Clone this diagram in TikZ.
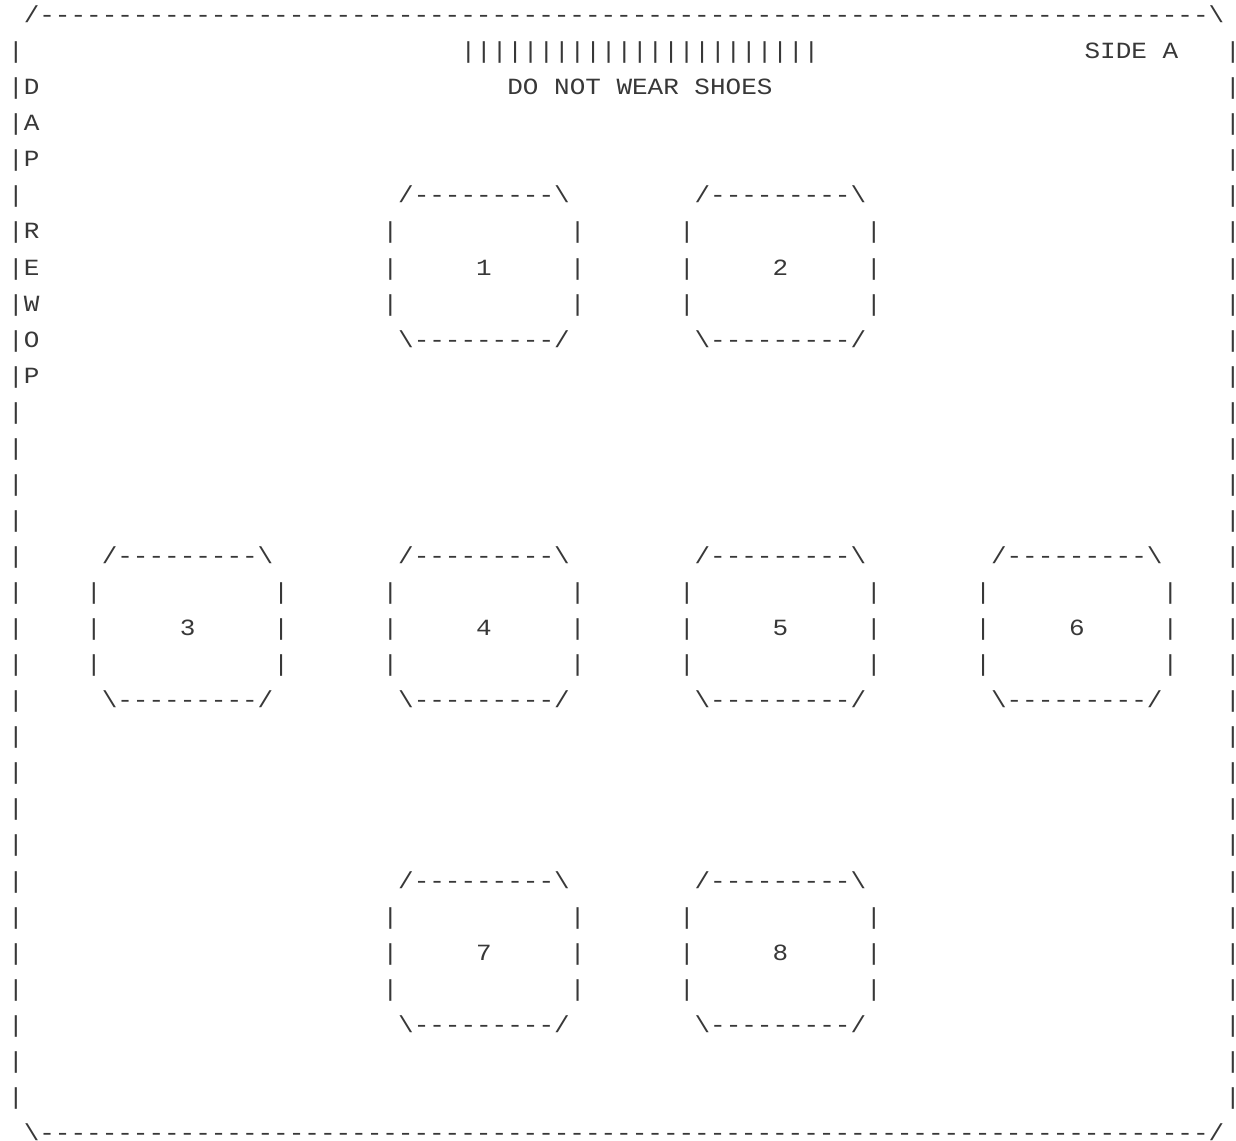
\documentclass[tikz,border=0pt]{standalone}
\usepackage{fontspec}
\newfontfamily\mono{Liberation Mono}[FakeStretch=1.12]
% place text on the character grid: name, column, row, text
\newcommand\asc[4]{\node[glyph] (#1) at ({8.2+15.6*(#2)},{-(22.6+36.06*(#3))}) {#4};}
% a pad box: name, centre column, top row, number
\newcommand\ascbox[4]{%
  \asc{#1t}{#2-5}{#3}{/---------\textbackslash}
  \foreach \k in {1,2,3}{\asc{#1l\k}{#2-6}{#3+\k}{|}\asc{#1r\k}{#2+6}{#3+\k}{|}}
  \asc{#1n}{#2}{#3+2}{#4}
  \asc{#1b}{#2-5}{#3+4}{\textbackslash---------/}}
\newcommand\borderdashes{---------------------------------------------------------------------------}
\begin{document}
\begin{tikzpicture}[x=1pt,y=1pt,
  glyph/.style={anchor=base west,inner sep=0pt,outer sep=0pt,
    font=\mono\fontsize{23.2pt}{36pt}\selectfont,text=black!78}]
\fill[white] (0,0) rectangle (1236,-1140);
\useasboundingbox (0,0) rectangle (1236,-1140);
% outer frame
\asc{top}{1}{0}{/\borderdashes\textbackslash}
\asc{bot}{1}{31}{\textbackslash\borderdashes/}
\foreach \r in {1,...,30}{\asc{L\r}{0}{\r}{|}\asc{R\r}{78}{\r}{|}}
% header
\asc{bar}{29}{1}{|||||||||||||||||||||||}
\asc{side}{69}{1}{SIDE A}
\asc{warn}{32}{2}{DO NOT WEAR SHOES}
% vertical side label
\asc{vD}{1}{2}{D}
\asc{vA}{1}{3}{A}
\asc{vP}{1}{4}{P}
\asc{vR}{1}{6}{R}
\asc{vE}{1}{7}{E}
\asc{vW}{1}{8}{W}
\asc{vO}{1}{9}{O}
\asc{vP2}{1}{10}{P}
% pads
\ascbox{b1}{30}{5}{1}
\ascbox{b2}{49}{5}{2}
\ascbox{b3}{11}{15}{3}
\ascbox{b4}{30}{15}{4}
\ascbox{b5}{49}{15}{5}
\ascbox{b6}{68}{15}{6}
\ascbox{b7}{30}{24}{7}
\ascbox{b8}{49}{24}{8}
\end{tikzpicture}
\end{document}
